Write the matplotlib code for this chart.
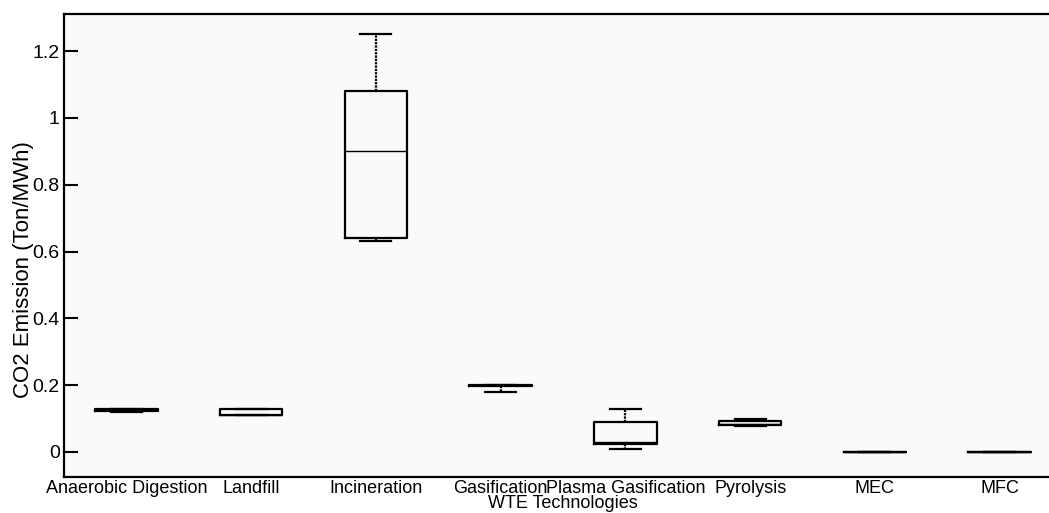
import matplotlib
matplotlib.use("Agg")
import matplotlib.pyplot as plt

categories = ["Anaerobic Digestion", "Landfill", "Incineration", "Gasification",
              "Plasma Gasification", "Pyrolysis", "MEC", "MFC"]
whislo = [0.120, 0.110, 0.630, 0.180, 0.010, 0.078, 0.0, 0.0]
q1     = [0.122, 0.110, 0.640, 0.196, 0.025, 0.080, 0.0, 0.0]
med    = [0.125, 0.112, 0.900, 0.199, 0.030, 0.085, 0.0, 0.0]
q3     = [0.128, 0.129, 1.080, 0.200, 0.090, 0.093, 0.0, 0.0]
whishi = [0.128, 0.129, 1.250, 0.200, 0.130, 0.100, 0.0, 0.0]

plt.rcParams['font.family'] = ['Liberation Sans', 'DejaVu Sans']

fig = plt.figure(figsize=(10.49, 5.13), dpi=100)
ax = fig.add_axes([64/1049, 36/513, (1062-64)/1049, (477-14)/513])
ax.set_facecolor('#fafafa')

stats = []
for i, c in enumerate(categories):
    stats.append(dict(label=c, whislo=whislo[i], q1=q1[i], med=med[i],
                      q3=q3[i], whishi=whishi[i], fliers=[]))

ax.bxp(stats, positions=range(1, len(categories) + 1), widths=0.5,
       showfliers=False, capwidths=0.25,
       boxprops=dict(color='black', linewidth=1.6),
       whiskerprops=dict(color='black', linewidth=1.6, linestyle=(0, (1, 0.5))),
       capprops=dict(color='black', linewidth=1.6),
       medianprops=dict(color='black', linewidth=1.0))

ax.set_xlim(0.5, 8.5)
ax.set_ylim(-0.075, 1.311)
ax.set_yticks([0, 0.2, 0.4, 0.6, 0.8, 1.0, 1.2])
ax.set_yticklabels(['0', '0.2', '0.4', '0.6', '0.8', '1', '1.2'])
ax.tick_params(axis='y', direction='in', length=10, width=1.5, labelsize=14, pad=3)
ax.tick_params(axis='x', length=0, labelsize=13, pad=2)
for s in ax.spines.values():
    s.set_linewidth(1.6)
ax.spines['right'].set_visible(False)

ax.set_xlabel('WTE Technologies', fontsize=13, labelpad=-1.5)
ax.set_ylabel('CO2 Emission (Ton/MWh)', fontsize=16)
ax.yaxis.set_label_coords(-0.030, 0.447)

fig.savefig('out.png', dpi=100)
